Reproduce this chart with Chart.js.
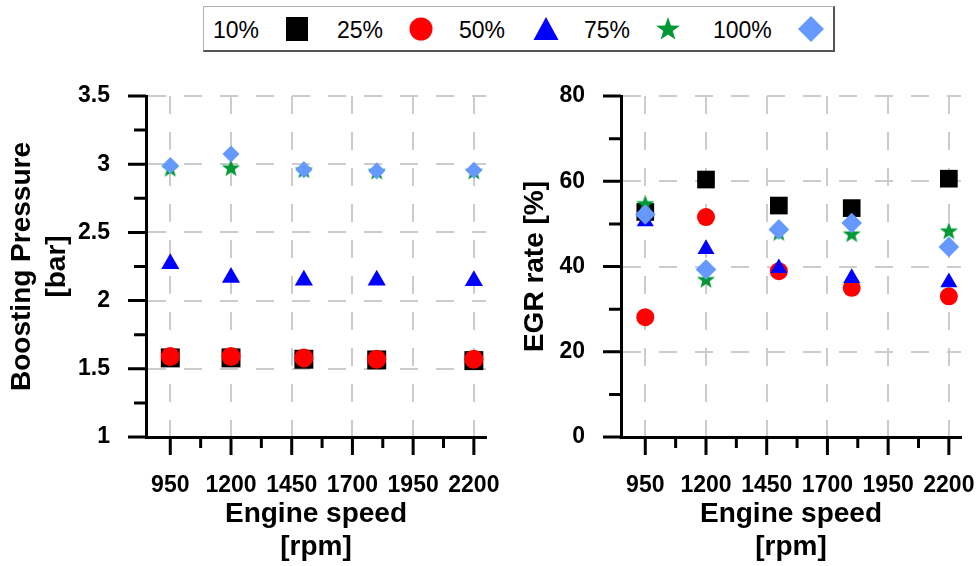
<!DOCTYPE html>
<html>
<head>
<meta charset="utf-8">
<script src="https://cdn.jsdelivr.net/npm/chart.js@4"></script>
<style>
  body { margin: 0; background: #fff; font-family: 'Liberation Sans', Arial, sans-serif; }
  #page { position: relative; width: 978px; height: 566px; overflow: hidden; }
  #legend { position: absolute; left: 203px; top: 6px; width: 629px; height: 43px;
            border: 1px solid #b0b0b0; border-right: 2px solid #555; border-bottom: 2px solid #555; }
  #legend span { position: absolute; top: 10px; font-size: 23px; line-height: 26px; color: #000; }
  #legend svg { position: absolute; top: 0; }
  .box { position: absolute; top: 0; height: 566px; }
</style>
</head>
<body>
<div id="page">
  <div id="legend"></div>
  <div class="box" style="left:0;width:500px"><canvas id="boost" width="500" height="566"></canvas></div>
  <div class="box" style="left:500px;width:478px"><canvas id="egr" width="478" height="566"></canvas></div>
</div>
<script>
// engine speeds of the measurements
const speeds = [950, 1200, 1500, 1800, 2200];
const seriesLabels = ['10%', '25%', '50%', '75%', '100%'];
const seriesColors = ['#000000', '#ff0000', '#0000ff', '#009933', '#6699ff'];

// boosting pressure [bar]
const boost10 = [1.58, 1.58, 1.57, 1.565, 1.56];
const boost25 = [1.59, 1.59, 1.58, 1.57, 1.57];
const boost50 = [2.27, 2.17, 2.15, 2.15, 2.145];
const boost75 = [2.97, 2.975, 2.96, 2.95, 2.95];
const boost100 = [2.99, 3.075, 2.96, 2.95, 2.955];

// EGR rate [%]
const egr10 = [52.8, 60.4, 54.3, 53.7, 60.6];
const egr25 = [28.1, 51.6, 38.9, 35.0, 33.0];
const egr50 = [50.6, 44.1, 39.6, 37.3, 36.3];
const egr75 = [54.8, 37.0, 48.0, 47.7, 48.4];
const egr100 = [52.2, 39.3, 48.7, 50.2, 44.6];

// axis ticks
const xTicks = [950, 1200, 1450, 1700, 1950, 2200];
const xMinor = [1075, 1325, 1575, 1825, 2075];
const boostTicks = [1, 1.5, 2, 2.5, 3, 3.5];
const boostMinor = [1.25, 1.75, 2.25, 2.75, 3.25];
const egrTicks = [0, 20, 40, 60, 80];
const egrMinor = [10, 30, 50, 70];

const FONT = "'Liberation Sans', Arial, sans-serif";

function starPoints(cx, cy, R, r) {
  const pts = [];
  for (let i = 0; i < 10; i++) {
    const a = -Math.PI / 2 + i * Math.PI / 5;
    const rad = i % 2 ? r : R;
    pts.push([cx + rad * Math.cos(a), cy + rad * Math.sin(a)]);
  }
  return pts;
}

// filled star as a point image
const star = document.createElement('canvas');
star.width = 20; star.height = 20;
(function () {
  const c = star.getContext('2d');
  c.fillStyle = seriesColors[3];
  c.beginPath();
  starPoints(10, 10.8, 9.6, 3.9).forEach((p, i) => i ? c.lineTo(p[0], p[1]) : c.moveTo(p[0], p[1]));
  c.closePath();
  c.fill();
})();

// legend (text first, then marker)
const legendMarks = [
  c => `<rect x="2" y="1" width="22" height="24" fill="${c}"/>`,
  c => `<circle cx="13" cy="13" r="11.5" fill="${c}"/>`,
  c => `<polygon points="13,1 25.5,24 0.5,24" fill="${c}"/>`,
  c => `<polygon points="${starPoints(13, 13.5, 12.5, 5).map(p => p.join(',')).join(' ')}" fill="${c}"/>`,
  c => `<polygon points="13,0 26,13 13,26 0,13" fill="${c}"/>`
];
const textLeft = [9, 133, 255, 380, 509];
const markLeft = [80, 204, 329, 451, 594];
const legend = document.getElementById('legend');
seriesLabels.forEach((lab, i) => {
  legend.insertAdjacentHTML('beforeend',
    `<span style="left:${textLeft[i]}px">${lab}</span>` +
    `<svg width="26" height="26" style="left:${markLeft[i]}px;top:9px">${legendMarks[i](seriesColors[i])}</svg>`);
});

// outward major / minor tick marks
const tickMarks = {
  id: 'tickMarks',
  afterDraw(chart, args, o) {
    const {ctx, chartArea: a, scales: {x, y}} = chart;
    ctx.save();
    ctx.strokeStyle = '#000';
    ctx.lineWidth = 3;
    ctx.beginPath();
    xTicks.forEach(v => { const p = x.getPixelForValue(v); ctx.moveTo(p, a.bottom); ctx.lineTo(p, a.bottom + 18); });
    xMinor.forEach(v => { const p = x.getPixelForValue(v); ctx.moveTo(p, a.bottom); ctx.lineTo(p, a.bottom + 11); });
    o.major.forEach(v => { const p = y.getPixelForValue(v); ctx.moveTo(a.left, p); ctx.lineTo(a.left - 18, p); });
    o.minor.forEach(v => { const p = y.getPixelForValue(v); ctx.moveTo(a.left, p); ctx.lineTo(a.left - 12, p); });
    ctx.stroke();
    ctx.restore();
  }
};

function makeChart(id, values, yMin, yMax, yTicks, yMinor, yTitle, yTitlePad, yWidth, padRight, sz) {
  const styles = ['rect', 'circle', 'triangle', star, 'rectRot'];
  const radius = [sz.sq, sz.ci, sz.tr, 10, sz.di];
  const datasets = values.map((vals, i) => ({
    label: seriesLabels[i],
    data: speeds.map((s, j) => ({x: s, y: vals[j]})),
    pointStyle: styles[i],
    pointRadius: radius[i],
    pointBackgroundColor: seriesColors[i],
    pointBorderWidth: 0,
    showLine: false,
    order: values.length - i,
    clip: false
  }));
  const axisBorder = {display: true, color: '#000', width: 3, dash: [18, 18]};
  const gridOpts = {color: '#cccccc', lineWidth: 2, drawTicks: false};
  return new Chart(document.getElementById(id), {
    type: 'scatter',
    data: {datasets},
    plugins: [tickMarks],
    options: {
      responsive: false,
      animation: false,
      devicePixelRatio: 1,
      layout: {padding: {top: 96, right: padRight, bottom: 0, left: 0}},
      plugins: {
        legend: {display: false},
        tooltip: {enabled: false},
        tickMarks: {major: yTicks, minor: yMinor}
      },
      scales: {
        x: {
          type: 'linear', min: 850, max: 2250,
          afterBuildTicks: s => { s.ticks = xTicks.map(v => ({value: v})); },
          afterFit: s => { s.height = 129; s.paddingLeft = 0; s.paddingRight = 0; },
          ticks: {color: '#000', padding: 35, maxRotation: 0, autoSkip: false,
                  font: {family: FONT, size: 23, weight: 'bold'}, callback: v => String(v)},
          grid: gridOpts,
          border: axisBorder,
          title: {display: true, text: ['Engine speed', '[rpm]'], color: '#000',
                  font: {family: FONT, size: 28, weight: 'bold', lineHeight: 1.15},
                  padding: {top: 0, bottom: 3}}
        },
        y: {
          min: yMin, max: yMax,
          afterBuildTicks: s => { s.ticks = yTicks.map(v => ({value: v})); },
          afterFit: s => { s.width = yWidth; s.paddingTop = 0; s.paddingBottom = 0; },
          ticks: {color: '#000', padding: 36, autoSkip: false,
                  font: {family: FONT, size: 23, weight: 'bold'}, callback: v => String(v)},
          grid: gridOpts,
          border: axisBorder,
          title: {display: true, text: yTitle, color: '#000',
                  font: {family: FONT, size: 28, weight: 'bold', lineHeight: 1.25},
                  padding: {top: yTitlePad, bottom: 0}}
        }
      }
    }
  });
}

makeChart('boost', [boost10, boost25, boost50, boost75, boost100], 1, 3.5, boostTicks, boostMinor,
  ['Boosting Pressure', '[bar]'], 5, 146, 14, {sq: 13.4, ci: 9.5, tr: 10.5, di: 8.5});
makeChart('egr', [egr10, egr25, egr50, egr75, egr100], 0, 80, egrTicks, egrMinor,
  'EGR rate [%]', 18, 121, 17, {sq: 12.5, ci: 9, tr: 9.8, di: 10.3});
</script>
</body>
</html>
